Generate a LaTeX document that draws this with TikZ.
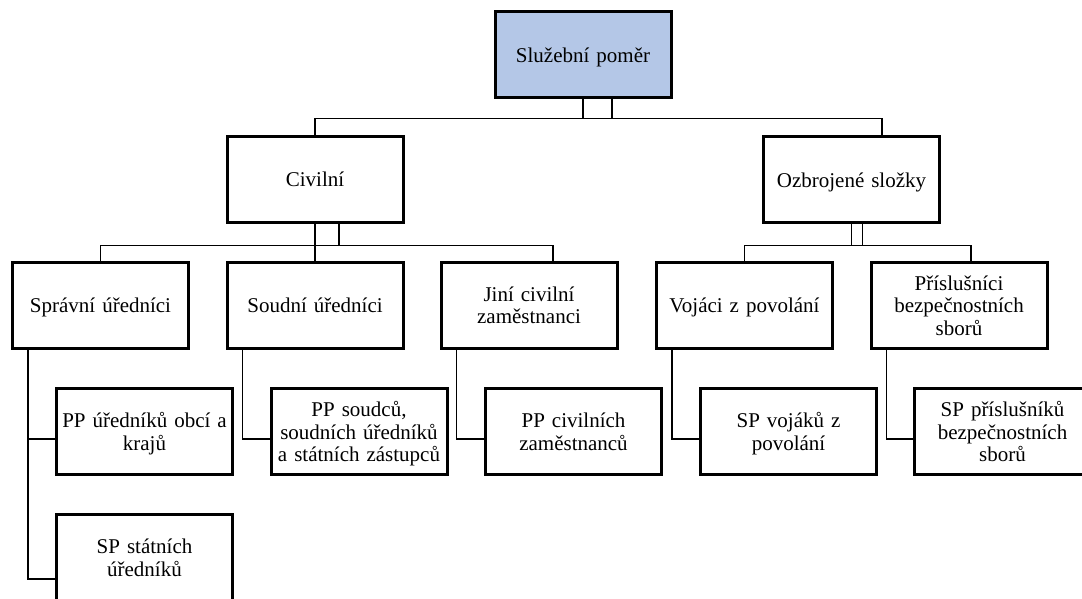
\documentclass[tikz,border=0pt]{standalone}
\usepackage{fontspec}
\setmainfont{Liberation Serif}
\usepackage{xcolor}
\usepackage{tikz}

\definecolor{rootblue}{HTML}{B4C7E7}

\tikzset{
	box/.style={draw, line width=3pt, minimum width=176pt, minimum height=86pt,
		inner sep=0pt, text width=170pt, align=center,
		font=\fontsize{21}{22.5}\selectfont,
		execute at begin node=\rule{0pt}{21.75pt}, execute at end node=\strut},
	rootbox/.style={box, fill=rootblue},
	link/.style={line width=1.5pt}
}

\begin{document}
\begin{tikzpicture}[x=1pt, y=-1pt]
			\useasboundingbox (0,0) rectangle (1082,598);
			\node[rootbox] (root) at (583,54.5) {Služební poměr};
			\node[box] (civilni) at (315,179) {Civilní};
			\node[box] (ozbrojene) at (851.5,179.5) {Ozbrojené složky};
			\node[box] (spravni) at (100.5,305) {Správní úředníci};
			\node[box] (soudni) at (315,305) {Soudní úředníci};
			\node[box] (jini) at (529,305) {Jiní civilní\\zaměstnanci};
			\node[box] (vojaci) at (744.5,305) {Vojáci z povolání};
			\node[box] (prislusnici) at (959,305) {Příslušníci\\bezpečnostních\\sborů};
			\node[box] (ppuredniku) at (144.5,431.5) {PP úředníků obcí a\\krajů};
			\node[box] (ppsoudcu) at (359,431.5) {PP soudců,\\soudních úředníků\\a státních zástupců};
			\node[box] (ppcivilnich) at (573.5,431.5) {PP civilních\\zaměstnanců};
			\node[box] (spvojaku) at (788.5,431.5) {SP vojáků z\\povolání};
			\node[box] (spprislusniku) at (1002.5,431.5) {SP příslušníků\\bezpečnostních\\sborů};
			\node[box] (spstatnich) at (144.5,557.5) {SP státních\\úředníků};

			% connectors
			\draw[link] (root.south) -- ++(0,19.5) -| ([xshift=30.5pt]ozbrojene.north);
			\draw[link] ([xshift=29pt]root.south) -- ++(0,19.5) -| (civilni.north);

			\draw[link] (civilni.south) -- (soudni.north);
			\draw[link] ([xshift=24pt]civilni.south) -- ++(0,22) -| (spravni.north);
			\draw[link] ([xshift=24pt]civilni.south) -- ++(0,22) -| ([xshift=24pt]jini.north);
			\draw[link] (ozbrojene.south) -- ++(0,21.5) -| ([xshift=12pt]prislusnici.north);
			\draw[link] ([xshift=11pt]ozbrojene.south) -- ++(0,21.5) -| (vojaci.north);

			\draw[link] ([xshift=17pt]spravni.south west) |- ([yshift=-7.5pt]ppuredniku.west);
			\draw[link] ([xshift=17pt]spravni.south west) |- ([yshift=-21.5pt]spstatnich.west);
			\draw[link] ([xshift=17pt]soudni.south west) |- ([yshift=-7.5pt]ppsoudcu.west);
			\draw[link] ([xshift=17pt]jini.south west) |- ([yshift=-7.5pt]ppcivilnich.west);
			\draw[link] ([xshift=17pt]vojaci.south west) |- ([yshift=-7.5pt]spvojaku.west);
			\draw[link] ([xshift=17pt]prislusnici.south west) |- ([yshift=-7.5pt]spprislusniku.west);
		\end{tikzpicture}
\end{document}
